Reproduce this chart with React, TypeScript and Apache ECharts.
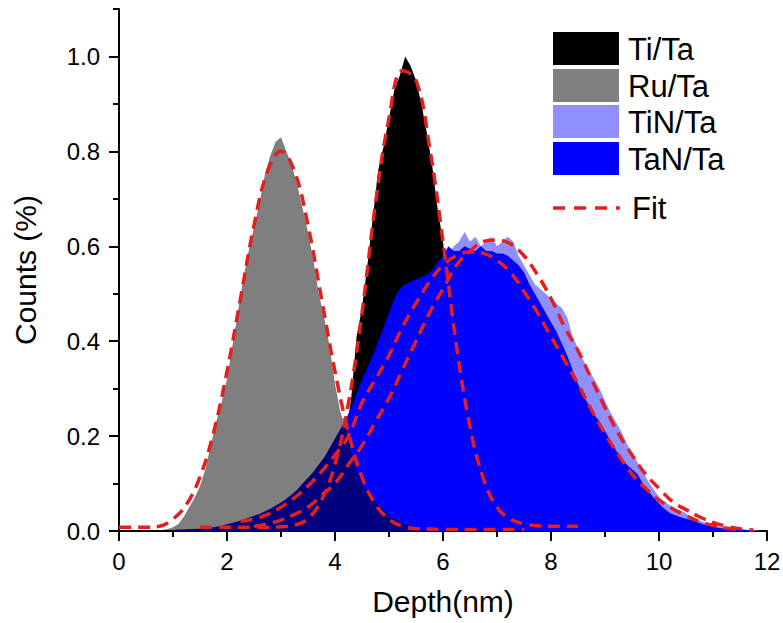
import React, { useEffect, useRef } from "react";
import * as echarts from "echarts";

// ---------- data ----------
const HIST_STEP = 0.1;
const FIT_STEP = 0.25;

// Ti/Ta histogram, depth 3.0 .. 7.5 nm
const tiStart = 3.0;
const tiCounts = [
  0.005, 0.007, 0.01, 0.013, 0.018, 0.025, 0.035, 0.05, 0.07, 0.09,
  0.11, 0.15, 0.2, 0.28, 0.41, 0.47, 0.56, 0.66, 0.76, 0.81,
  0.87, 0.93, 0.96, 1.0, 0.98, 0.95, 0.9, 0.84, 0.77, 0.68,
  0.61, 0.5, 0.4, 0.3, 0.22, 0.16, 0.11, 0.08, 0.05, 0.035,
  0.025, 0.018, 0.012, 0.008, 0.004, 0,
];

// Ru/Ta histogram, depth 0.7 .. 5.7 nm
const ruStart = 0.7;
const ruCounts = [
  0, 0.002, 0.004, 0.008, 0.015, 0.03, 0.05, 0.07, 0.095, 0.13,
  0.18, 0.23, 0.27, 0.32, 0.39, 0.46, 0.53, 0.59, 0.64, 0.69,
  0.75, 0.79, 0.82, 0.83, 0.8, 0.77, 0.73, 0.68, 0.63, 0.57,
  0.5, 0.45, 0.39, 0.31, 0.25, 0.22, 0.17, 0.125, 0.1, 0.08,
  0.065, 0.055, 0.045, 0.035, 0.025, 0.02, 0.014, 0.01, 0.006, 0.003,
  0,
];

// TiN/Ta histogram, depth 1.0 .. 11.9 nm
const tinStart = 1.0;
const tinCounts = [
  0.001, 0.001, 0.002, 0.002, 0.003, 0.003, 0.004, 0.005, 0.006, 0.008,
  0.01, 0.012, 0.014, 0.017, 0.02, 0.023, 0.026, 0.03, 0.034, 0.039,
  0.044, 0.05, 0.057, 0.065, 0.074, 0.084, 0.095, 0.107, 0.12, 0.135,
  0.15, 0.166, 0.183, 0.2, 0.22, 0.24, 0.26, 0.285, 0.31, 0.335,
  0.36, 0.385, 0.41, 0.435, 0.46, 0.48, 0.5, 0.52, 0.535, 0.55,
  0.56, 0.58, 0.6, 0.61, 0.63, 0.61, 0.62, 0.6, 0.61, 0.62,
  0.6, 0.61, 0.62, 0.61, 0.58, 0.56, 0.54, 0.52, 0.51, 0.5,
  0.49, 0.48, 0.47, 0.45, 0.41, 0.385, 0.36, 0.34, 0.32, 0.3,
  0.275, 0.25, 0.23, 0.21, 0.185, 0.165, 0.145, 0.125, 0.105, 0.088,
  0.072, 0.062, 0.054, 0.048, 0.043, 0.037, 0.031, 0.025, 0.02, 0.016,
  0.012, 0.01, 0.007, 0.006, 0.005, 0.004, 0.003, 0.002, 0.001, 0,
];

// TaN/Ta histogram, depth 1.0 .. 11.8 nm
const tanStart = 1.0;
const tanCounts = [
  0.002, 0.003, 0.003, 0.004, 0.004, 0.005, 0.006, 0.007, 0.009, 0.011,
  0.014, 0.017, 0.02, 0.024, 0.028, 0.032, 0.036, 0.041, 0.047, 0.053,
  0.06, 0.068, 0.077, 0.087, 0.1, 0.112, 0.125, 0.14, 0.155, 0.175,
  0.195, 0.215, 0.235, 0.26, 0.29, 0.32, 0.345, 0.37, 0.4, 0.43,
  0.46, 0.49, 0.51, 0.52, 0.525, 0.53, 0.535, 0.54, 0.55, 0.565,
  0.58, 0.6, 0.59, 0.59, 0.6, 0.595, 0.59, 0.6, 0.59, 0.59,
  0.585, 0.585, 0.58, 0.57, 0.56, 0.545, 0.52, 0.5, 0.48, 0.46,
  0.44, 0.42, 0.395, 0.37, 0.34, 0.31, 0.285, 0.265, 0.245, 0.23,
  0.21, 0.19, 0.17, 0.155, 0.14, 0.13, 0.12, 0.1, 0.085, 0.07,
  0.058, 0.047, 0.038, 0.033, 0.029, 0.026, 0.023, 0.019, 0.015, 0.012,
  0.009, 0.007, 0.005, 0.004, 0.003, 0.003, 0.002, 0.001, 0,
];

// Fit curves (dashed red)
const ruFitStart = 0;
const ruFit = [
  0.008, 0.008, 0.008, 0.01, 0.025, 0.056, 0.114, 0.207, 0.336, 0.49,
  0.644, 0.758, 0.8, 0.758, 0.644, 0.49, 0.336, 0.207, 0.114, 0.056,
  0.025, 0.01, 0.005, 0.004, 0.003, 0.003, 0.003, 0.003, 0.003, 0.003,
  0.003,
];
const tiFitStart = 1.5;
const tiFit = [
  0.008, 0.008, 0.008, 0.008, 0.008, 0.008, 0.009, 0.012, 0.026, 0.065,
  0.14, 0.27, 0.46, 0.69, 0.87, 0.97, 0.95, 0.81, 0.61, 0.39,
  0.22, 0.11, 0.05, 0.025, 0.015, 0.011, 0.01, 0.01, 0.01,
];
const tinFitStart = 2.5;
const tinFit = [
  0.01, 0.015, 0.023, 0.035, 0.05, 0.075, 0.1, 0.14, 0.18, 0.23,
  0.28, 0.34, 0.4, 0.46, 0.51, 0.56, 0.59, 0.61, 0.613, 0.605,
  0.58, 0.54, 0.49, 0.43, 0.38, 0.32, 0.26, 0.205, 0.16, 0.12,
  0.09, 0.062, 0.045, 0.03, 0.018, 0.01, 0.005, 0.002,
];
const tanFitStart = 2.25;
const tanFit = [
  0.02, 0.025, 0.035, 0.05, 0.07, 0.095, 0.125, 0.16, 0.2, 0.27,
  0.32, 0.37, 0.43, 0.48, 0.525, 0.56, 0.58, 0.588, 0.585, 0.57,
  0.545, 0.505, 0.46, 0.41, 0.36, 0.31, 0.255, 0.205, 0.16, 0.12,
  0.09, 0.065, 0.047, 0.032, 0.02, 0.012, 0.006, 0.003,
];

const xTicks = [0, 2, 4, 6, 8, 10, 12];
const yTicks = [0, 0.2, 0.4, 0.6, 0.8, 1.0];
const legendNames = ["Ti/Ta", "Ru/Ta", "TiN/Ta", "TaN/Ta"];
const legendColors = ["#000000", "#808080", "#8f8fff", "#0000ff"];

// ---------- helpers ----------
const FONT = "'Liberation Sans', Arial, sans-serif";
const RED = "#e3201f";

function pairs(start: number, step: number, vals: number[]) {
  return vals.map((v, i) => [Number((start + i * step).toFixed(3)), v]);
}

function histSeries(name: string, start: number, vals: number[], color: string, opacity: number) {
  return {
    type: "line",
    name,
    data: pairs(start, HIST_STEP, vals),
    showSymbol: false,
    symbol: "none",
    lineStyle: { width: 0, color },
    itemStyle: { color },
    areaStyle: { color, opacity },
    silent: true,
  };
}

function fitSeries(start: number, vals: number[]) {
  return {
    type: "line",
    name: "Fit",
    data: pairs(start, FIT_STEP, vals),
    showSymbol: false,
    symbol: "none",
    smooth: 0.4,
    lineStyle: { color: RED, width: 3.5, type: [12, 7] },
    z: 5,
    silent: true,
  };
}

export default function App() {
  const ref = useRef<HTMLDivElement>(null);

  useEffect(() => {
    if (!ref.current) return;
    const chart = echarts.init(ref.current, undefined, { renderer: "svg" });

    const legendGraphics: any[] = [];
    const rectTops = [32, 69, 105, 142];
    legendNames.forEach((n, i) => {
      legendGraphics.push({
        type: "rect",
        shape: { x: 553, y: rectTops[i], width: 66, height: 33 },
        style: { fill: legendColors[i] },
      });
      legendGraphics.push({
        type: "text",
        x: 628,
        y: rectTops[i] + 17,
        style: {
          text: n,
          fontFamily: FONT,
          fontSize: 31,
          fill: "#000",
          verticalAlign: "middle",
        },
      });
    });
    legendGraphics.push({
      type: "line",
      shape: { x1: 553, y1: 208, x2: 620, y2: 208 },
      style: { stroke: RED, lineWidth: 3.5, lineDash: [12, 9] },
    });
    legendGraphics.push({
      type: "text",
      x: 632,
      y: 208,
      style: { text: "Fit", fontFamily: FONT, fontSize: 31, fill: "#000", verticalAlign: "middle" },
    });

    const axisLineStyle = { color: "#000", width: 2 };

    chart.setOption({
      animation: false,
      backgroundColor: "#ffffff",
      textStyle: { fontFamily: FONT },
      grid: { left: 119, right: 16, top: 9, bottom: 92, containLabel: false, outerBoundsMode: "none" },
      xAxis: {
        type: "value",
        min: 0,
        max: 12,
        interval: 2,
        name: "Depth(nm)",
        nameLocation: "middle",
        nameGap: 55,
        nameTextStyle: { fontSize: 30, color: "#000", fontFamily: FONT },
        axisLine: { show: true, onZero: false, lineStyle: axisLineStyle },
        axisTick: { show: true, length: 10, lineStyle: axisLineStyle, customValues: xTicks },
        minorTick: { show: true, splitNumber: 2, length: 6, lineStyle: axisLineStyle },
        axisLabel: {
          customValues: xTicks,
          fontSize: 24,
          color: "#000",
          fontFamily: FONT,
          margin: 18,
          formatter: (v: number) => String(v),
        },
        splitLine: { show: false },
        minorSplitLine: { show: false },
      },
      yAxis: [
        {
          type: "value",
          min: 0,
          max: 1.1,
          interval: 0.1,
          position: "left",
          axisLine: { show: true, onZero: false, lineStyle: axisLineStyle },
          axisTick: { show: true, length: 6, lineStyle: axisLineStyle },
          axisLabel: { show: false },
          splitLine: { show: false },
        },
        {
          type: "value",
          min: 0,
          max: 1.1,
          interval: 0.2,
          position: "left",
          name: "Counts (%)",
          nameLocation: "middle",
          nameGap: 79,
          nameTextStyle: { fontSize: 30, color: "#000", fontFamily: FONT },
          axisLine: { show: false },
          axisTick: { show: true, length: 10, lineStyle: axisLineStyle, customValues: yTicks },
          axisLabel: {
            customValues: yTicks,
            fontSize: 24,
            color: "#000",
            fontFamily: FONT,
            margin: 19,
            formatter: (v: number) => v.toFixed(1),
          },
          splitLine: { show: false },
        },
      ],
      series: [
        histSeries("Ti/Ta", tiStart, tiCounts, "#000000", 1),
        histSeries("TiN/Ta", tinStart, tinCounts, "#8f8fff", 1),
        histSeries("TaN/Ta", tanStart, tanCounts, "#0000ff", 1),
        histSeries("Ru/Ta", ruStart, ruCounts, "#000000", 0.5),
        fitSeries(ruFitStart, ruFit),
        fitSeries(tiFitStart, tiFit),
        fitSeries(tinFitStart, tinFit),
        fitSeries(tanFitStart, tanFit),
      ],
      graphic: legendGraphics,
    });

    return () => chart.dispose();
  }, []);

  return (
    <div
      ref={ref}
      style={{ position: "absolute", left: 0, top: 0, width: 783, height: 623, background: "#fff" }}
    />
  );
}
